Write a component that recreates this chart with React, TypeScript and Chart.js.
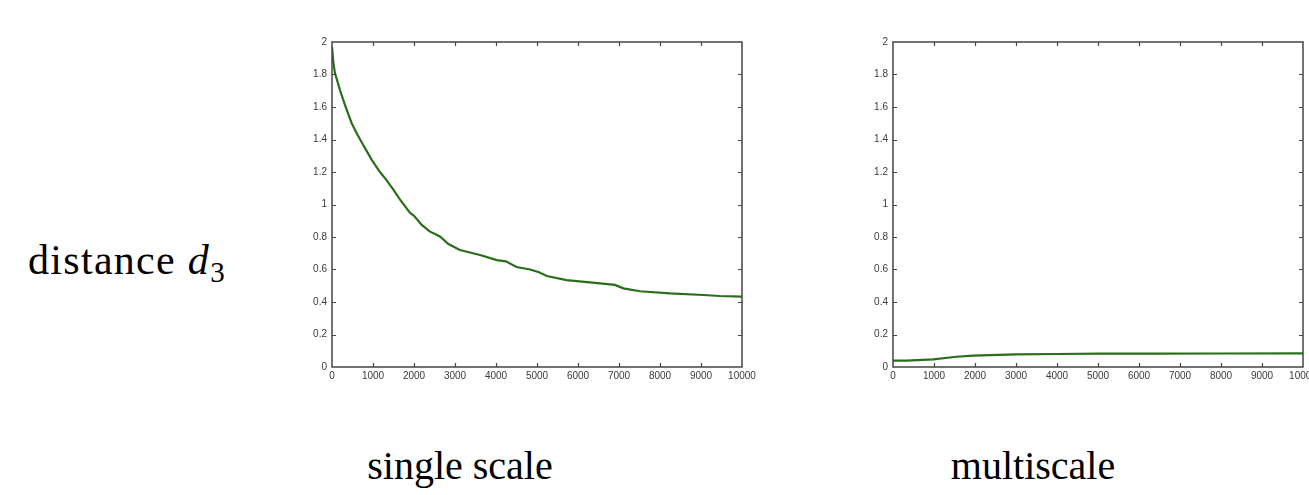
import React, { useEffect, useRef } from "react";
import { Chart, registerables } from "chart.js";

Chart.register(...registerables);

// ---- data ----
const singleX = [0, 30, 70, 200, 320, 480, 600, 720, 970, 1170, 1330, 1500, 1660, 1900, 2000, 2190, 2390, 2540, 2640, 2840, 3120, 3610, 4020, 4240, 4500, 4830, 5050, 5240, 5720, 6540, 6900, 7110, 7510, 8240, 9060, 9460, 10000];
const singleY = [1.97, 1.88, 1.81, 1.70, 1.61, 1.50, 1.44, 1.385, 1.275, 1.20, 1.15, 1.09, 1.03, 0.95, 0.93, 0.874, 0.833, 0.815, 0.802, 0.757, 0.72, 0.689, 0.658, 0.65, 0.615, 0.60, 0.583, 0.56, 0.535, 0.515, 0.505, 0.484, 0.466, 0.453, 0.443, 0.437, 0.433];

const multiX = [0, 330, 980, 1550, 1950, 3000, 4000, 5050, 6400, 8000, 10000];
const multiY = [0.039, 0.039, 0.047, 0.063, 0.07, 0.078, 0.08, 0.082, 0.082, 0.083, 0.084];

const xTicks = [0, 1000, 2000, 3000, 4000, 5000, 6000, 7000, 8000, 9000, 10000];
const yTicks = [0, 0.2, 0.4, 0.6, 0.8, 1, 1.2, 1.4, 1.6, 1.8, 2];

const captions = ["single scale", "multiscale"];
const rowLabelText = "distance";
const rowLabelVar = "d";
const rowLabelSub = "3";

const LINE_COLOR = "#2a6e1a";
const AXIS_COLOR = "#444444";
const TICK_LABEL_COLOR = "#3a3a3a";

const boxTicksPlugin = {
  id: "boxTicks",
  afterDatasetsDraw(chart: any) {
    const { ctx, chartArea: a, scales } = chart;
    const xs = scales.x;
    const ys = scales.y;
    const L = 4;
    ctx.save();
    ctx.strokeStyle = AXIS_COLOR;
    ctx.lineWidth = 1.2;
    ctx.beginPath();
    xs.ticks.forEach((t: any) => {
      if (t.value === xs.min || t.value === xs.max) return;
      const px = Math.round(xs.getPixelForValue(t.value)) + 0.5;
      ctx.moveTo(px, a.bottom);
      ctx.lineTo(px, a.bottom - L);
      ctx.moveTo(px, a.top);
      ctx.lineTo(px, a.top + L);
    });
    ys.ticks.forEach((t: any) => {
      if (t.value === ys.min || t.value === ys.max) return;
      const py = Math.round(ys.getPixelForValue(t.value)) + 0.5;
      ctx.moveTo(a.left, py);
      ctx.lineTo(a.left + L, py);
      ctx.moveTo(a.right, py);
      ctx.lineTo(a.right - L, py);
    });
    ctx.stroke();
    ctx.lineWidth = 1.5;
    ctx.strokeRect(a.left, a.top, a.right - a.left, a.bottom - a.top);
    ctx.restore();
  },
};

type PanelProps = {
  left: number;
  top: number;
  width: number;
  height: number;
  rightPad: number;
  xs: number[];
  ys: number[];
};

function Panel({ left, top, width, height, rightPad, xs, ys }: PanelProps) {
  const ref = useRef<HTMLCanvasElement | null>(null);
  useEffect(() => {
    if (!ref.current) return;
    const chart = new Chart(ref.current, {
      type: "line",
      data: {
        datasets: [
          {
            data: xs.map((x, i) => ({ x, y: ys[i] })),
            borderColor: LINE_COLOR,
            borderWidth: 2.2,
            pointRadius: 0,
            tension: 0,
            fill: false,
          },
        ],
      },
      options: {
        animation: false,
        responsive: false,
        devicePixelRatio: 1,
        events: [],
        layout: { padding: { top: 12, right: rightPad, left: 0, bottom: 0 } },
        plugins: { legend: { display: false }, tooltip: { enabled: false } },
        scales: {
          x: {
            type: "linear",
            min: 0,
            max: 10000,
            grid: { display: false, drawTicks: false },
            border: { display: false },
            afterBuildTicks: (s: any) => {
              s.ticks = xTicks.map((v) => ({ value: v }));
            },
            afterFit: (s: any) => {
              s.height = 33;
              s.paddingLeft = 0;
              s.paddingRight = 0;
            },
            ticks: {
              autoSkip: false,
              maxRotation: 0,
              minRotation: 0,
              padding: 3,
              color: TICK_LABEL_COLOR,
              font: { family: "'Liberation Sans', Arial, sans-serif", size: 10 },
              callback: (v: any) => String(v),
            },
          },
          y: {
            type: "linear",
            min: 0,
            max: 2,
            grid: { display: false, drawTicks: false },
            border: { display: false },
            afterBuildTicks: (s: any) => {
              s.ticks = yTicks.map((v) => ({ value: v }));
            },
            afterFit: (s: any) => {
              s.width = 42;
              s.paddingTop = 0;
              s.paddingBottom = 0;
            },
            ticks: {
              autoSkip: false,
              padding: 5,
              color: TICK_LABEL_COLOR,
              font: { family: "'Liberation Sans', Arial, sans-serif", size: 10 },
              callback: (v: any) => String(Math.round(Number(v) * 10) / 10),
            },
          },
        },
      },
      plugins: [boxTicksPlugin],
    });
    return () => chart.destroy();
  }, []);
  return (
    <div style={{ position: "absolute", left, top, width, height }}>
      <canvas ref={ref} width={width} height={height} style={{ display: "block" }} />
    </div>
  );
}

export default function App() {
  const serif = "'Liberation Serif', 'Times New Roman', serif";
  return (
    <div
      style={{
        position: "fixed",
        left: 0,
        top: 0,
        width: 1309,
        height: 495,
        background: "#ffffff",
        overflow: "hidden",
      }}
    >
      <Panel left={290} top={30} width={470} height={370} rightPad={18} xs={singleX} ys={singleY} />
      <Panel left={851} top={30} width={458} height={370} rightPad={6} xs={multiX} ys={multiY} />
      <div
        style={{
          position: "absolute",
          left: 28,
          top: 239,
          fontFamily: serif,
          fontSize: 42,
          lineHeight: "42px",
          letterSpacing: "1.3px",
          color: "#000",
          whiteSpace: "nowrap",
        }}
      >
        {rowLabelText} <i>{rowLabelVar}</i>
        <span style={{ fontSize: 29, position: "relative", top: 8 }}>{rowLabelSub}</span>
      </div>
      <div
        style={{
          position: "absolute",
          left: 310,
          width: 300,
          top: 446,
          textAlign: "center",
          fontFamily: serif,
          fontSize: 40,
          lineHeight: "40px",
          color: "#000",
          whiteSpace: "nowrap",
        }}
      >
        {captions[0]}
      </div>
      <div
        style={{
          position: "absolute",
          left: 883,
          width: 300,
          top: 446,
          textAlign: "center",
          fontFamily: serif,
          fontSize: 40,
          lineHeight: "40px",
          color: "#000",
          whiteSpace: "nowrap",
        }}
      >
        {captions[1]}
      </div>
    </div>
  );
}
